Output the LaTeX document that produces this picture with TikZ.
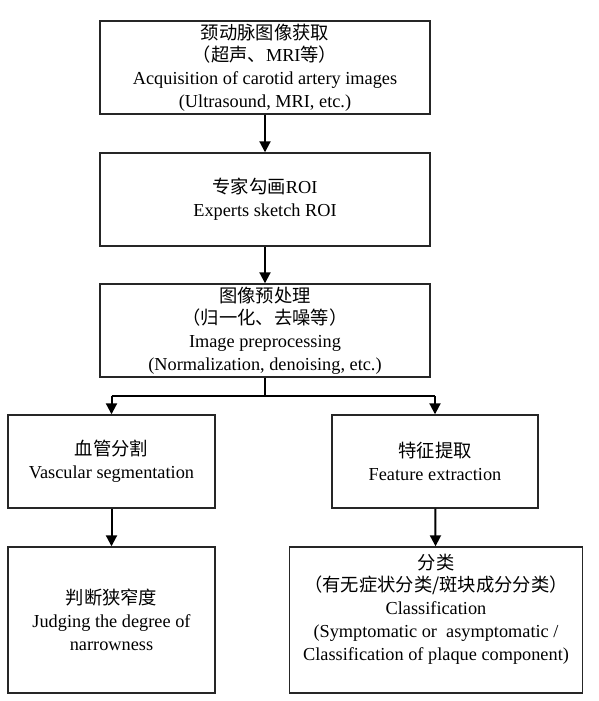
\documentclass[tikz,border=0pt]{standalone}
\usepackage{fontspec}
\setmainfont{Liberation Serif}
\newfontfamily\cjk{Noto Sans CJK SC}
\usetikzlibrary{arrows.meta}
\begin{document}
\begin{tikzpicture}[x=1pt,y=-1pt,
  box/.style={draw=black!85,line width=1.4pt,rectangle,inner sep=0pt,align=center,
    font=\fontsize{18.3}{22.8}\selectfont},
  txt/.style={inner sep=0pt,align=center,font=\fontsize{18.3}{22.8}\selectfont},
  arr/.style={line width=2pt,-{Triangle[width=11pt,length=11pt]}},
  ln/.style={line width=2pt}]
\useasboundingbox (0,0) rectangle (599,701);
\node[box,minimum width=330pt,minimum height=93pt] (b1) at (265,67.5)
  {{\cjk 颈动脉图像获取}\\{\cjk （超声、}MRI{\cjk 等）}\\Acquisition of carotid artery images\\(Ultrasound, MRI, etc.)};
\node[box,minimum width=330pt,minimum height=93pt] (b2) at (265,199.5)
  {{\cjk 专家勾画}ROI\\Experts sketch ROI};
\node[box,minimum width=330pt,minimum height=93pt] (b3) at (265,330.5)
  {{\cjk 图像预处理}\\{\cjk （归一化、去噪等）}\\Image preprocessing\\(Normalization, denoising, etc.)};
\node[box,minimum width=207pt,minimum height=93pt] (b4) at (111.5,461.5)
  {{\cjk 血管分割}\\Vascular segmentation};
\node[box,minimum width=206pt,minimum height=93pt] (b5) at (435,461.5)
  {{\cjk 特征提取}\\Feature extraction};
\node[box,minimum width=207pt,minimum height=146pt] (b6) at (111.5,620)
  {{\cjk 判断狭窄度}\\Judging the degree of\\narrowness};
\node[box,minimum width=293pt,minimum height=146pt] (b7) at (436,620) {};
\node[txt] (b7t) at (436,609)
  {{\cjk 分类}\\{\cjk （有无症状分类/斑块成分分类）}\\Classification\\(Symptomatic or~ asymptomatic /\\Classification of plaque component)};
\coordinate (split) at (265,396);
\coordinate (sl) at (b4.north |- split);
\coordinate (sr) at (b5.north |- split);
\draw[arr] (b1) -- (b2);
\draw[arr] (b2) -- (b3);
\draw[ln] (b3.south) -- (split);
\draw[ln] (sl) -- (sr);
\draw[arr] (sl) -- (b4.north);
\draw[arr] (sr) -- (b5.north);
\draw[arr] (b4) -- (b6);
\draw[arr] (b5) -- (b7);
\end{tikzpicture}
\end{document}
